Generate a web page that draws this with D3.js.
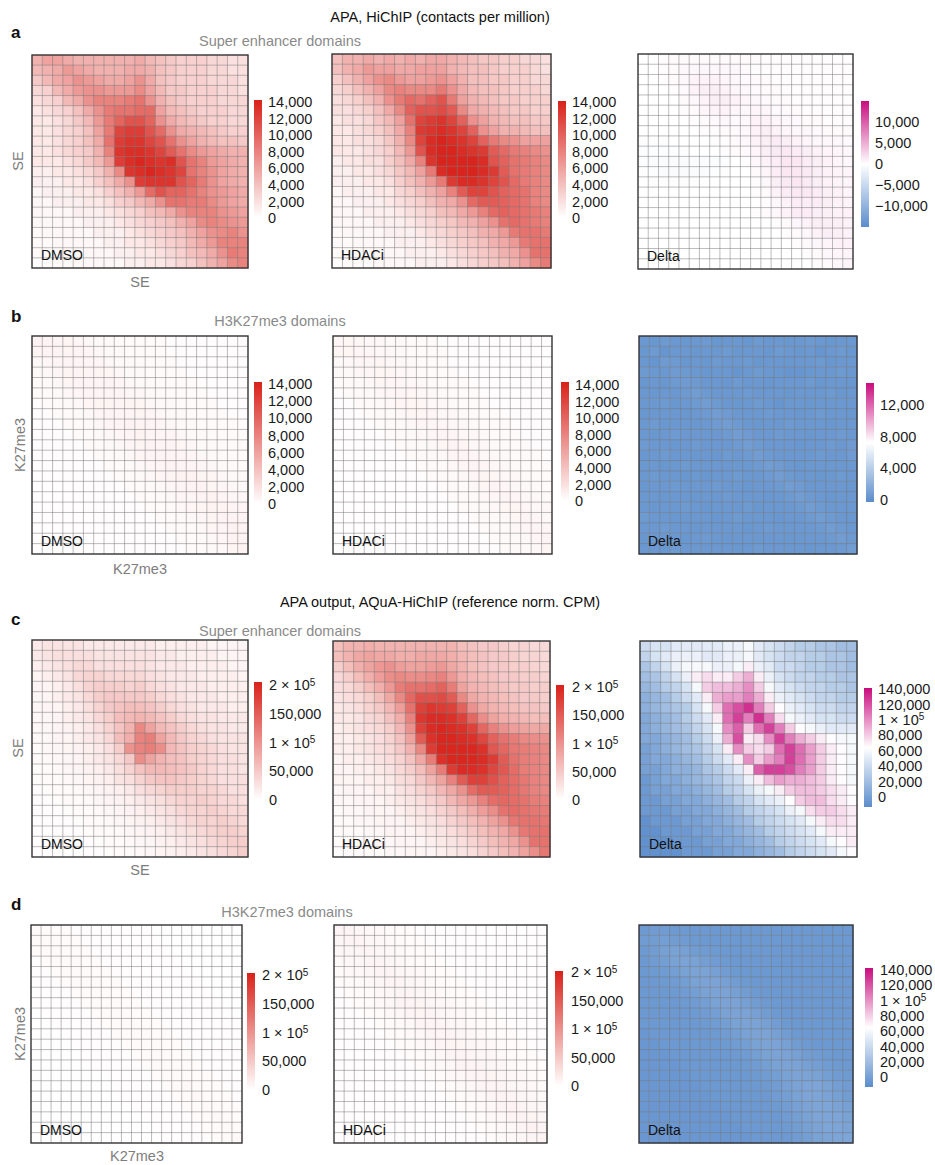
<!DOCTYPE html>
<html>
<head>
<meta charset="utf-8">
<script src="https://cdn.jsdelivr.net/npm/d3@7"></script>
<style>
  body { margin: 0; background: #fff; }
  svg { display: block; }
</style>
</head>
<body>
<div id="chart"></div>
<script>
// ---- data ----
// HiChIP panels in thousands of contacts per million, AQuA panels in units of 10,000 CPM
const conditions = ["DMSO", "HDACi", "Delta"];
const hichipRedTicks = [0, 2000, 4000, 6000, 8000, 10000, 12000, 14000];
const aquaRedTicks = [0, 50000, 100000, 150000, 200000];
const seDeltaHiChIPTicks = [-10000, -5000, 0, 5000, 10000];
const k27DeltaHiChIPTicks = [0, 4000, 8000, 12000];
const aquaDeltaTicks = [0, 20000, 40000, 60000, 80000, 100000, 120000, 140000];
const sciTicks = [100000, 200000];

const seDmsoHiChIP = [
  [5, 6, 6, 5.5, 5, 5, 5, 5, 5, 5, 5.5, 4.5, 4, 3.5, 3, 3, 3, 2.5, 2.5, 2, 2],
  [4.5, 5, 5.5, 6.5, 6, 5.5, 5, 5, 5, 5.5, 5.5, 5, 4, 3.5, 3, 3, 3, 2.5, 2.5, 2, 2],
  [3.5, 4.5, 5.5, 6, 7, 6.5, 6, 5.5, 5.5, 6, 7, 5.5, 4, 3.5, 3, 3, 3, 2.5, 2.5, 2.5, 2],
  [2.5, 3, 4.5, 5.5, 6.5, 7, 7, 6.5, 6.5, 6.5, 7.5, 6, 4.5, 3.5, 3.5, 3, 3, 3, 2.5, 2.5, 2],
  [2, 2.5, 3, 4.5, 5.5, 7, 8, 8, 8, 8.5, 9, 7, 5, 4, 3.5, 3, 3, 3, 2.5, 2.5, 2.5],
  [1.5, 2, 2.5, 3, 4, 5.5, 7, 8.5, 9, 9, 9.5, 9.5, 6, 4.5, 4, 3.5, 3, 3, 3, 2.5, 2.5],
  [1.5, 1.5, 2, 2.5, 3.5, 4.5, 6.5, 8.5, 10, 11, 11, 10, 7, 5.5, 4.5, 4, 3.5, 3, 3, 2.5, 2.5],
  [1.5, 1.5, 2, 2.5, 3, 4, 6, 8.5, 12, 12.5, 12.5, 11, 9.5, 7, 5.5, 5, 4.5, 4, 3.5, 3, 3],
  [1.5, 1.5, 2, 2.5, 3, 4, 5.5, 9, 12.5, 13, 13, 12, 11, 9, 7, 6, 5, 4.5, 4, 4, 3.5],
  [1.5, 1.5, 2, 2.5, 3, 3.5, 5, 8, 13, 13.5, 13.5, 13, 12, 10.5, 9, 7.5, 6.5, 6, 5.5, 5, 5],
  [1.5, 1.5, 1.5, 2, 2.5, 3.5, 4.5, 6.5, 12.5, 13.5, 14, 13.5, 13, 13.5, 11, 9, 8, 6.5, 6, 5.5, 5],
  [1, 1, 1.5, 1.5, 2, 2.5, 3.5, 5, 7.5, 13, 13.5, 14, 13.5, 13, 12, 9, 8, 7, 6, 5.5, 5],
  [1, 1, 1, 1.5, 1.5, 2, 3, 4, 5.5, 7, 12.5, 13, 13, 13, 11, 10, 8.5, 7, 6, 5.5, 5],
  [0.5, 1, 1, 1, 1.5, 1.5, 2, 3, 4, 5, 6.5, 9.5, 11, 10, 10, 9, 8, 7, 6.5, 6, 5.5],
  [0.5, 0.5, 1, 1, 1, 1.5, 1.5, 2, 3, 3.5, 4.5, 5.5, 7, 9, 9, 8.5, 8.5, 7.5, 6.5, 6, 5.5],
  [0.5, 0.5, 0.5, 0.5, 1, 1, 1, 1.5, 2, 2.5, 3, 4, 4.5, 5.5, 7, 8, 8, 8, 7, 6.5, 6],
  [0.5, 0.5, 0.5, 0.5, 0.5, 1, 1, 1, 1.5, 2, 2.5, 3, 3.5, 4, 5, 6, 7.5, 8, 7.5, 7, 6.5],
  [0.3, 0.5, 0.5, 0.5, 0.5, 0.5, 1, 1, 1, 1.5, 2, 2.5, 3, 3.5, 4, 5, 6, 7, 7.5, 8, 7],
  [0.3, 0.3, 0.5, 0.5, 0.5, 0.5, 0.5, 1, 1, 1.5, 1.5, 2, 2.5, 3, 3.5, 4.5, 5.5, 6.5, 8, 8, 8],
  [0.3, 0.3, 0.3, 0.5, 0.5, 0.5, 0.5, 0.5, 1, 1, 1.5, 1.5, 2, 2.5, 3, 4, 4.5, 5.5, 7, 8.5, 8],
  [0.2, 0.3, 0.3, 0.3, 0.5, 0.5, 0.5, 0.5, 0.5, 1, 1, 1.5, 1.5, 2, 2.5, 3, 4, 5, 6, 7.5, 8]
];

const seHdaciHiChIP = [
  [4, 5, 5, 5.5, 5, 5.5, 5, 5.5, 5, 5.5, 5.5, 5, 4.5, 4, 3.5, 3.5, 3, 3, 2.5, 2.5, 2],
  [4, 5, 5.5, 6.5, 6, 6, 5.5, 5.5, 6, 6, 6, 5, 4.5, 4, 4, 3.5, 3, 3, 3, 2.5, 2],
  [3, 4, 5, 6, 7, 7.5, 6.5, 6, 6, 6.5, 7, 6, 5, 4, 4, 3.5, 3.5, 3, 3, 2.5, 2.5],
  [2.5, 3, 4, 5, 6, 7.5, 8, 7.5, 7.5, 7.5, 8.5, 7, 5.5, 4.5, 4, 4, 3.5, 3, 3, 3, 2.5],
  [2, 2.5, 3, 4, 5, 7, 8.5, 9.5, 9, 10, 11, 8.5, 6, 5, 4.5, 4, 3.5, 3.5, 3, 3, 3],
  [2, 2, 2.5, 3, 4, 5.5, 7.5, 10, 11, 11, 11.5, 10.5, 7.5, 5.5, 5, 4.5, 4, 3.5, 3.5, 3, 3],
  [1.5, 2, 2, 2.5, 3.5, 4.5, 6, 9, 12, 12.5, 13, 12, 10, 7, 6, 5, 4.5, 4, 4, 3.5, 3.5],
  [1.5, 1.5, 2, 2.5, 3, 4, 5.5, 8, 12.5, 13, 13.5, 13, 12, 10, 7, 6, 5, 5, 4.5, 4, 4],
  [1.5, 1.5, 2, 2, 2.5, 3.5, 5, 7.5, 12, 13.5, 14, 13.5, 13, 12, 10, 8.5, 7.5, 7, 6, 6, 6],
  [1.5, 1.5, 1.5, 2, 2.5, 3, 4.5, 6.5, 11, 13.5, 14, 14, 13.5, 13, 12.5, 10.5, 9.5, 8.5, 8, 7.5, 7],
  [1, 1.5, 1.5, 2, 2, 3, 4, 5.5, 8, 13, 14, 14, 14, 14, 13.5, 11, 10, 9, 8.5, 8, 7.5],
  [1, 1, 1.5, 1.5, 2, 2.5, 3.5, 4.5, 6, 8.5, 13.5, 14, 14, 14, 13.5, 12.5, 10.5, 9, 8.5, 8, 7.5],
  [1, 1, 1, 1.5, 1.5, 2, 3, 4, 5, 6.5, 8.5, 12.5, 13.5, 13.5, 13, 12, 11, 9.5, 8.5, 8, 7.5],
  [0.5, 1, 1, 1, 1.5, 1.5, 2.5, 3, 4, 5, 6, 8, 10.5, 12, 12, 11, 10, 9.5, 9, 8, 7.5],
  [0.5, 0.5, 1, 1, 1, 1.5, 2, 2.5, 3, 4, 5, 5.5, 7, 9.5, 10.5, 10.5, 10, 9.5, 9, 8, 7.5],
  [0.5, 0.5, 0.5, 1, 1, 1, 1.5, 2, 2.5, 3, 4, 4.5, 5.5, 6.5, 8, 9.5, 10, 9.5, 9, 8.5, 8],
  [0.5, 0.5, 0.5, 0.5, 1, 1, 1, 1.5, 2, 2.5, 3, 3.5, 4.5, 5, 6, 7, 9, 9.5, 9, 8.5, 8],
  [0.3, 0.5, 0.5, 0.5, 0.5, 1, 1, 1, 1.5, 2, 2.5, 3, 3.5, 4, 5, 5.5, 6.5, 8.5, 9, 9, 8.5],
  [0.3, 0.3, 0.5, 0.5, 0.5, 0.5, 1, 1, 1, 1.5, 2, 2.5, 3, 3.5, 4, 5, 5.5, 6.5, 8.5, 9, 9],
  [0.3, 0.3, 0.3, 0.5, 0.5, 0.5, 0.5, 1, 1, 1, 1.5, 2, 2.5, 3, 3.5, 4, 5, 5.5, 7, 9, 9],
  [0.2, 0.3, 0.3, 0.3, 0.5, 0.5, 0.5, 0.5, 1, 1, 1, 1.5, 2, 2.5, 3, 3.5, 4, 5, 6, 7.5, 8.5]
];

const seDeltaHiChIP = [
  [0, 0, 0.2, 0.3, 0.3, 0.3, 0.3, 0.3, 0.3, 0.3, 0.3, 0.3, 0.2, 0.2, 0.2, 0.2, 0.2, 0.2, 0.2, 0.1, 0.1],
  [0, 0, 0.2, 0.3, 0.5, 0.5, 0.5, 0.5, 0.5, 0.5, 0.3, 0.2, 0.2, 0.2, 0.2, 0.2, 0.2, 0.2, 0.2, 0.1, 0.1],
  [0, 0, 0.2, 0.3, 0.5, 0.8, 0.8, 0.8, 0.6, 0.5, 0.4, 0.3, 0.3, 0.2, 0.2, 0.2, 0.2, 0.2, 0.2, 0.2, 0.1],
  [0, 0, 0, 0.2, 0.4, 0.8, 1, 1, 0.8, 0.6, 0.5, 0.4, 0.3, 0.3, 0.2, 0.2, 0.2, 0.2, 0.2, 0.2, 0.1],
  [0, 0, 0, 0, 0.3, 0.5, 0.8, 1, 1, 0.8, 0.6, 0.5, 0.4, 0.3, 0.3, 0.2, 0.2, 0.2, 0.2, 0.2, 0.2],
  [0, 0, 0, 0, 0.2, 0.3, 0.6, 0.8, 0.8, 0.6, 0.5, 0.6, 0.6, 0.4, 0.3, 0.3, 0.2, 0.2, 0.2, 0.2, 0.2],
  [0, 0, 0, 0, 0, 0.2, 0.3, 0.4, 0.5, 0.4, 0.5, 0.8, 0.8, 0.6, 0.5, 0.4, 0.3, 0.3, 0.2, 0.2, 0.2],
  [0, 0, 0, 0, 0, 0, 0.2, 0.2, 0.3, 0.3, 0.5, 0.8, 1, 0.8, 0.6, 0.5, 0.5, 0.4, 0.3, 0.3, 0.3],
  [-0.2, -0.2, -0.2, 0, 0, 0, 0, 0.2, 0.2, 0.3, 0.5, 0.8, 1, 1.2, 1, 0.8, 0.6, 0.5, 0.5, 0.5, 0.4],
  [-0.3, -0.3, -0.3, -0.3, -0.2, 0, 0, 0, 0.2, 0.3, 0.4, 0.6, 1, 1.3, 1.4, 1.2, 1, 0.8, 0.6, 0.6, 0.5],
  [-0.3, -0.5, -0.5, -0.5, -0.5, -0.5, -0.5, -0.4, -0.3, 0, 0.2, 0.5, 0.8, 1.2, 1.5, 1.5, 1.2, 1, 0.8, 0.6, 0.5],
  [-0.2, -0.3, -0.5, -0.5, -0.5, -0.5, -0.5, -0.3, -0.2, 0, 0, 0.3, 0.6, 1.2, 1.5, 1.5, 1.3, 1, 0.8, 0.7, 0.6],
  [0, -0.2, -0.2, -0.2, -0.2, -0.2, 0, 0, 0, 0, 0, 0.2, 0.5, 1, 1.3, 1.5, 1.3, 1, 0.8, 0.7, 0.6],
  [0, 0, 0, 0, 0, 0, 0, 0, 0, 0, 0, 0.2, 0.3, 0.8, 1.2, 1.4, 1.4, 1.2, 0.9, 0.8, 0.6],
  [0, 0, 0, 0, 0, 0, 0, 0, 0, 0, 0, 0, 0.2, 0.5, 0.8, 1.2, 1.2, 1.2, 1, 0.8, 0.7],
  [0, 0, 0, 0, 0, 0, 0, 0, 0, 0, 0, 0.2, 0.3, 0.5, 0.8, 1.2, 1.2, 1, 0.9, 0.8, 0.8],
  [0, 0, 0, 0, 0, 0, 0, 0, 0, 0, 0, 0, 0, 0.2, 0.3, 0.5, 0.8, 1, 1, 0.9, 0.8],
  [0, 0, 0, 0, 0, 0, 0, 0, 0, 0, 0, 0, 0, 0, 0.2, 0.3, 0.5, 0.8, 1, 0.9, 0.8],
  [0, 0, 0, 0, 0, 0, 0, 0, 0, 0, 0, 0, 0, 0, 0, 0.2, 0.3, 0.5, 0.6, 0.8, 0.8],
  [0, 0, 0, 0, 0, 0, 0, 0, 0, 0, 0, 0, 0, 0, 0, 0, 0.2, 0.3, 0.5, 0.6, 0.7],
  [0, 0, 0, 0, 0, 0, 0, 0, 0, 0, 0, 0, 0, 0, 0, 0, 0, 0.2, 0.3, 0.5, 0.6]
];

const k27DmsoHiChIP = [
  [.8, .8, .7, .7, .6, .5, .4, .4, .3, .3, .3, .3, .3, .2, .2, .2, .2, .2, .2, .2, .2],
  [.7, .8, .8, .7, .7, .6, .5, .4, .4, .3, .3, .3, .3, .2, .2, .2, .2, .2, .2, .2, .2],
  [.5, .6, .7, .7, .7, .7, .6, .5, .4, .4, .3, .3, .3, .3, .2, .2, .2, .2, .2, .2, .2],
  [.4, .5, .6, .7, .7, .7, .7, .6, .5, .4, .4, .3, .3, .3, .3, .2, .2, .2, .2, .2, .2],
  [.3, .4, .5, .6, .7, .7, .7, .7, .6, .5, .4, .4, .3, .3, .3, .3, .2, .2, .2, .2, .2],
  [.3, .3, .4, .5, .6, .7, .7, .7, .7, .6, .5, .4, .4, .3, .3, .3, .3, .2, .2, .2, .2],
  [.2, .3, .3, .4, .5, .6, .7, .7, .7, .7, .6, .5, .4, .4, .3, .3, .3, .3, .2, .2, .2],
  [.2, .2, .3, .3, .4, .5, .6, .7, .7, .7, .7, .6, .5, .4, .4, .3, .3, .3, .3, .2, .2],
  [.2, .2, .2, .3, .3, .4, .5, .6, .7, .8, .7, .7, .6, .5, .4, .4, .3, .3, .3, .3, .2],
  [.2, .2, .2, .2, .3, .3, .4, .5, .6, .7, .8, .7, .7, .6, .5, .4, .4, .3, .3, .3, .3],
  [.2, .2, .2, .2, .2, .3, .3, .4, .5, .6, .7, .8, .7, .7, .6, .5, .4, .4, .3, .3, .3],
  [.2, .2, .2, .2, .2, .2, .3, .3, .4, .5, .6, .7, .8, .7, .7, .6, .5, .4, .4, .3, .3],
  [.1, .2, .2, .2, .2, .2, .2, .3, .3, .4, .5, .6, .7, .8, .7, .7, .6, .5, .4, .4, .3],
  [.1, .1, .2, .2, .2, .2, .2, .2, .3, .3, .4, .5, .6, .7, .8, .8, .7, .6, .5, .4, .4],
  [.1, .1, .1, .2, .2, .2, .2, .2, .2, .3, .3, .4, .5, .6, .7, .8, .8, .7, .6, .5, .4],
  [.1, .1, .1, .1, .2, .2, .2, .2, .2, .2, .3, .3, .4, .5, .6, .7, .8, .8, .7, .6, .5],
  [.1, .1, .1, .1, .1, .2, .2, .2, .2, .2, .2, .3, .3, .4, .5, .6, .7, .8, .8, .7, .6],
  [.1, .1, .1, .1, .1, .1, .2, .2, .2, .2, .2, .2, .3, .3, .4, .5, .6, .7, .8, .8, .7],
  [.1, .1, .1, .1, .1, .1, .1, .2, .2, .2, .2, .2, .2, .3, .3, .4, .5, .6, .7, .8, .8],
  [.1, .1, .1, .1, .1, .1, .1, .1, .2, .2, .2, .2, .2, .2, .3, .3, .4, .5, .6, .8, .8],
  [.1, .1, .1, .1, .1, .1, .1, .1, .1, .2, .2, .2, .2, .2, .2, .3, .3, .4, .5, .7, .8]
];

const k27HdaciHiChIP = [
  [.6, .6, .6, .5, .5, .4, .4, .3, .3, .3, .2, .2, .2, .2, .2, .2, .1, .1, .1, .1, .1],
  [.6, .6, .6, .6, .5, .5, .4, .3, .3, .3, .3, .2, .2, .2, .2, .2, .2, .1, .1, .1, .1],
  [.5, .5, .6, .6, .6, .5, .5, .4, .3, .3, .3, .2, .2, .2, .2, .2, .2, .2, .1, .1, .1],
  [.4, .4, .5, .6, .6, .6, .5, .5, .4, .3, .3, .3, .2, .2, .2, .2, .2, .2, .2, .1, .1],
  [.3, .4, .4, .5, .6, .6, .6, .5, .5, .4, .3, .3, .3, .2, .2, .2, .2, .2, .2, .2, .1],
  [.2, .3, .4, .4, .5, .6, .6, .6, .5, .5, .4, .3, .3, .3, .2, .2, .2, .2, .2, .2, .2],
  [.2, .2, .3, .4, .4, .5, .6, .6, .6, .5, .5, .4, .3, .3, .3, .2, .2, .2, .2, .2, .2],
  [.2, .2, .2, .3, .4, .4, .5, .6, .6, .6, .5, .5, .4, .3, .3, .3, .2, .2, .2, .2, .2],
  [.1, .2, .2, .2, .3, .4, .4, .5, .6, .6, .6, .5, .5, .4, .3, .3, .3, .2, .2, .2, .2],
  [.1, .1, .2, .2, .2, .3, .4, .4, .5, .6, .7, .6, .5, .5, .4, .3, .3, .3, .2, .2, .2],
  [.1, .1, .1, .2, .2, .2, .3, .4, .4, .5, .6, .7, .6, .5, .5, .4, .3, .3, .3, .2, .2],
  [.1, .1, .1, .1, .2, .2, .2, .3, .4, .4, .5, .6, .7, .6, .5, .5, .4, .3, .3, .3, .2],
  [.1, .1, .1, .1, .1, .2, .2, .2, .3, .4, .4, .5, .6, .7, .6, .5, .5, .4, .3, .3, .3],
  [.1, .1, .1, .1, .1, .1, .2, .2, .2, .3, .4, .4, .5, .6, .7, .6, .5, .5, .4, .3, .3],
  [.1, .1, .1, .1, .1, .1, .1, .2, .2, .2, .3, .4, .4, .5, .6, .7, .6, .5, .5, .4, .3],
  [.1, .1, .1, .1, .1, .1, .1, .1, .2, .2, .2, .3, .4, .4, .5, .6, .7, .6, .5, .5, .4],
  [.1, .1, .1, .1, .1, .1, .1, .1, .1, .2, .2, .2, .3, .4, .4, .5, .6, .7, .6, .5, .5],
  [.1, .1, .1, .1, .1, .1, .1, .1, .1, .1, .2, .2, .2, .3, .4, .4, .5, .6, .7, .6, .5],
  [.1, .1, .1, .1, .1, .1, .1, .1, .1, .1, .1, .2, .2, .2, .3, .4, .4, .5, .6, .7, .6],
  [.1, .1, .1, .1, .1, .1, .1, .1, .1, .1, .1, .1, .2, .2, .2, .3, .4, .4, .5, .6, .7],
  [.1, .1, .1, .1, .1, .1, .1, .1, .1, .1, .1, .1, .1, .2, .2, .2, .3, .4, .4, .5, .7]
];

const k27DeltaHiChIP = [
  [.5, .4, .6, .5, .4, .5, .6, .4, .5, .5, .4, .6, .5, .5, .4, .5, .6, .5, .4, .5, .5],
  [.4, .6, .3, .5, .5, .4, .5, .5, .6, .4, .5, .5, .4, .6, .5, .4, .5, .3, .5, .6, .4],
  [.5, .3, .7, .6, .4, .5, .4, .6, .5, .5, .6, .4, .5, .5, .4, .5, .5, .6, .4, .5, .5],
  [.6, .5, .5, .7, .6, .5, .4, .5, .5, .3, .5, .6, .5, .4, .3, .3, .4, .5, .5, .6, .5],
  [.4, .5, .4, .6, .7, .6, .5, .5, .4, .6, .5, .5, .4, .5, .5, .5, .6, .4, .5, .5, .4],
  [.5, .4, .5, .5, .6, .8, .6, .5, .5, .5, .6, .5, .5, .5, .4, .5, .5, .5, .6, .4, .5],
  [.5, .5, .6, .4, .5, .6, .8, .6, .5, .4, .5, .6, .5, .3, .5, .5, .4, .5, .5, .5, .5],
  [.4, .5, .5, .5, .4, .5, .6, .8, .7, .5, .5, .5, .6, .5, .5, .4, .5, .6, .5, .5, .4],
  [.5, .6, .4, .5, .5, .4, .5, .7, .8, .6, .5, .4, .5, .5, .6, .5, .5, .5, .4, .5, .5],
  [.5, .4, .5, .6, .5, .5, .5, .5, .6, .8, .7, .5, .5, .6, .5, .5, .4, .5, .5, .6, .5],
  [.6, .5, .5, .4, .5, .6, .5, .5, .5, .6, .8, .6, .5, .5, .5, .4, .5, .5, .6, .5, .7],
  [.4, .5, .6, .5, .5, .4, .5, .4, .6, .5, .6, .8, .6, .5, .5, .5, .5, .6, .5, .5, .7],
  [.5, .5, .4, .5, .6, .5, .5, .5, .5, .5, .5, .6, .8, .7, .5, .4, .5, .5, .5, .5, .5],
  [.5, .6, .5, .5, .4, .5, .4, .5, .5, .6, .5, .5, .6, .8, .6, .5, .5, .4, .5, .6, .5],
  [.4, .5, .5, .6, .5, .5, .5, .6, .5, .5, .4, .5, .5, .6, .8, .7, .5, .5, .5, .5, .4],
  [.5, .5, .4, .5, .5, .4, .5, .5, .6, .5, .5, .5, .4, .5, .6, .8, .6, .5, .4, .5, .5],
  [.5, .4, .5, .5, .6, .5, .4, .5, .5, .5, .6, .4, .5, .5, .5, .6, .8, .6, .5, .5, .5],
  [.6, .5, .5, .4, .5, .5, .5, .4, .5, .6, .5, .5, .5, .4, .5, .5, .6, .8, .6, .5, .4],
  [.5, .5, .6, .5, .5, .4, .5, .5, .5, .5, .4, .5, .6, .5, .5, .5, .5, .6, .8, .6, .5],
  [.4, .5, .5, .5, .4, .5, .6, .5, .4, .5, .5, .5, .5, .5, .4, .5, .5, .5, .6, .8, .6],
  [.5, .5, .4, .6, .5, .5, .5, .5, .5, .4, .5, .6, .5, .5, .5, .5, .4, .5, .5, .6, .8]
];

const seDmsoAQuA = [
  [2, 2.5, 2.5, 2.5, 2.5, 2, 2, 2, 2, 2, 2, 2, 1.5, 1.5, 1.5, 1.5, 1.5, 1, 1, 1, 1],
  [2, 2.5, 3, 3, 3, 3, 2.5, 2.5, 2.5, 2.5, 2.5, 2.5, 2, 2, 1.5, 1.5, 1.5, 1.5, 1, 1, 1],
  [1.5, 2, 2.5, 3, 3.5, 3.5, 3, 3, 3, 3, 3, 2.5, 2, 2, 2, 1.5, 1.5, 1.5, 1.5, 1, 1],
  [1, 1.5, 2, 2.5, 3.5, 4, 4, 3.5, 3.5, 3.5, 3.5, 3, 2.5, 2, 2, 2, 1.5, 1.5, 1.5, 1.5, 1],
  [1, 1, 1.5, 2, 3, 4, 4.5, 4.5, 4.5, 4, 4.5, 3.5, 3, 2.5, 2, 2, 2, 1.5, 1.5, 1.5, 1.5],
  [0.8, 1, 1.5, 2, 2.5, 3.5, 4.5, 5, 5, 5, 5, 4.5, 3.5, 3, 2.5, 2, 2, 2, 1.5, 1.5, 1.5],
  [0.8, 1, 1, 1.5, 2, 3, 4, 5, 5.5, 6, 6, 5.5, 4.5, 3.5, 3, 2.5, 2, 2, 2, 1.5, 1.5],
  [0.7, 0.8, 1, 1.5, 2, 2.5, 3.5, 4.5, 6, 6.5, 7, 6.5, 5.5, 4.5, 3.5, 3, 2.5, 2.5, 2, 2, 2],
  [0.7, 0.8, 1, 1.2, 1.5, 2, 3, 4, 5.5, 7, 11, 8.5, 6.5, 5.5, 4.5, 3.5, 3, 2.5, 2.5, 2, 2],
  [0.6, 0.7, 1, 1, 1.5, 2, 2.5, 3.5, 6, 7.5, 11.5, 12, 8.5, 6.5, 5, 4, 3.5, 3, 2.5, 2.5, 2.5],
  [0.5, 0.7, 0.8, 1, 1.2, 1.5, 2, 3, 4.5, 10, 11.5, 12, 10.5, 6.5, 5.5, 4.5, 4, 3.5, 3, 2.5, 2.5],
  [0.5, 0.6, 0.7, 0.8, 1, 1.5, 2, 2.5, 3.5, 5, 10.5, 8.5, 7, 6, 5.5, 4.5, 4, 3.5, 3, 3, 2.5],
  [0.4, 0.5, 0.6, 0.8, 1, 1.2, 1.5, 2, 3, 4, 5.5, 6.5, 6.5, 6, 5.5, 5, 4, 3.5, 3, 3, 2.5],
  [0.4, 0.5, 0.5, 0.6, 0.8, 1, 1.2, 1.5, 2.5, 3, 4, 5, 5.5, 5.5, 5, 4.5, 4, 3.5, 3, 3, 3],
  [0.3, 0.4, 0.5, 0.5, 0.6, 0.8, 1, 1.2, 1.5, 2, 3, 3.5, 4, 4.5, 4.5, 4.5, 4, 4, 3.5, 3, 3],
  [0.3, 0.3, 0.4, 0.5, 0.5, 0.6, 0.8, 1, 1.2, 1.5, 2, 2.5, 3, 3.5, 4, 4, 4.5, 4, 3.5, 3.5, 3],
  [0.3, 0.3, 0.3, 0.4, 0.5, 0.5, 0.6, 0.8, 1, 1.2, 1.5, 2, 2.5, 3, 3.5, 4, 4, 4.5, 4, 3.5, 3.5],
  [0.2, 0.3, 0.3, 0.3, 0.4, 0.5, 0.5, 0.6, 0.8, 1, 1.2, 1.5, 2, 2.5, 3, 3.5, 4, 4, 4.5, 4, 3.5],
  [0.2, 0.2, 0.3, 0.3, 0.3, 0.4, 0.5, 0.5, 0.6, 0.8, 1, 1.2, 1.5, 2, 2.5, 3, 3.5, 4, 4.5, 4.5, 4],
  [0.2, 0.2, 0.2, 0.3, 0.3, 0.3, 0.4, 0.5, 0.5, 0.6, 0.8, 1, 1.2, 1.5, 2, 2.5, 3, 3.5, 4, 4.5, 4.5],
  [0.2, 0.2, 0.2, 0.2, 0.3, 0.3, 0.3, 0.4, 0.5, 0.5, 0.6, 0.8, 1, 1.2, 1.5, 2, 2.5, 3, 3.5, 4, 4.5]
];

const seHdaciAQuA = [
  [6, 7, 7, 7.5, 7, 7, 7, 7, 7, 7, 7, 7, 6, 5.5, 5, 5, 4.5, 4, 4, 3.5, 3.5],
  [6, 7, 8, 8.5, 8, 8, 7.5, 7.5, 8, 8, 8, 7.5, 6.5, 6, 5.5, 5, 5, 4.5, 4, 4, 3.5],
  [4.5, 6, 7.5, 8.5, 9.5, 10, 9, 8.5, 8.5, 9, 9.5, 8, 7, 6, 5.5, 5, 5, 4.5, 4.5, 4, 3.5],
  [3.5, 4.5, 6, 7.5, 9, 10.5, 11, 10.5, 10.5, 11, 11.5, 9.5, 7.5, 6.5, 6, 5.5, 5, 5, 4.5, 4.5, 4],
  [3, 3.5, 4.5, 6, 7.5, 9.5, 12, 13, 13, 13.5, 14.5, 12, 8.5, 7, 6.5, 6, 5.5, 5, 5, 4.5, 4.5],
  [2.5, 3, 3.5, 4.5, 6, 8, 11, 14, 16, 16, 16.5, 15, 11, 8, 7, 6.5, 6, 5.5, 5, 5, 4.5],
  [2, 2.5, 3, 4, 5, 6.5, 9, 13, 17.5, 18.5, 18, 17.5, 14.5, 10, 8, 7, 6.5, 6, 5.5, 5.5, 5],
  [2, 2, 2.5, 3.5, 4, 5.5, 7.5, 11.5, 18.5, 19.5, 19.5, 19, 17.5, 14, 10.5, 8.5, 7.5, 7, 6.5, 6, 6],
  [1.5, 2, 2.5, 3, 3.5, 4.5, 6.5, 10, 17.5, 19.5, 20, 19.5, 19, 17.5, 14, 11.5, 10, 9, 8.5, 8, 8],
  [1.5, 1.5, 2, 2.5, 3, 4, 5.5, 8.5, 15, 19, 20, 20, 19.5, 19, 17, 14.5, 13, 12, 11, 10.5, 10],
  [1.5, 1.5, 2, 2.5, 3, 3.5, 5, 7, 11, 18, 20, 20, 20, 20, 19, 15.5, 14, 12.5, 12, 11.5, 11],
  [1, 1.5, 1.5, 2, 2.5, 3, 4, 5.5, 8, 12, 19, 20, 20, 20, 19.5, 18, 15, 13, 12, 11.5, 11],
  [1, 1, 1.5, 1.5, 2, 2.5, 3.5, 4.5, 6, 8.5, 12, 18, 19.5, 19.5, 19, 17, 15.5, 13.5, 12, 11.5, 11],
  [1, 1, 1, 1.5, 1.5, 2, 3, 3.5, 5, 6.5, 8.5, 11.5, 15, 17.5, 17.5, 16, 14.5, 13.5, 12.5, 11.5, 11],
  [0.7, 1, 1, 1, 1.5, 1.5, 2.5, 3, 4, 5, 6.5, 8, 10, 13.5, 15, 15, 14.5, 13.5, 12.5, 11.5, 11],
  [0.7, 0.7, 1, 1, 1, 1.5, 2, 2.5, 3, 4, 5, 6.5, 8, 9.5, 11.5, 13.5, 14, 13.5, 13, 12, 11.5],
  [0.5, 0.7, 0.7, 1, 1, 1, 1.5, 2, 2.5, 3, 4, 5, 6, 7.5, 9, 10.5, 13, 13.5, 13, 12.5, 12],
  [0.5, 0.5, 0.7, 0.7, 1, 1, 1, 1.5, 2, 2.5, 3, 4, 5, 6, 7, 8.5, 10, 12.5, 13, 13, 12.5],
  [0.5, 0.5, 0.5, 0.7, 0.7, 1, 1, 1, 1.5, 2, 2.5, 3, 4, 5, 6, 7, 8, 10, 12.5, 13, 13],
  [0.4, 0.5, 0.5, 0.5, 0.7, 0.7, 1, 1, 1, 1.5, 2, 2.5, 3, 4, 5, 6, 7, 8, 10, 13, 13],
  [0.3, 0.4, 0.5, 0.5, 0.5, 0.7, 0.7, 1, 1, 1, 1.5, 2, 2.5, 3, 4, 5, 6, 7, 8.5, 10.5, 12.5]
];

const seDeltaAQuA = [
  [4, 4.5, 4.5, 5, 5, 5, 5, 5, 5.5, 5.5, 6, 5, 4.5, 4, 3.5, 3, 3, 2.5, 2.5, 2, 2],
  [3.5, 4.5, 5, 5.5, 5.5, 5.5, 5, 5, 5.5, 5.5, 6, 5, 4.5, 4, 3.5, 3.5, 3, 3, 2.5, 2.5, 2],
  [2.5, 3.5, 4.5, 5.5, 6, 6, 6, 5.5, 5.5, 6, 7, 5.5, 5, 4, 4, 3.5, 3, 3, 2.5, 2.5, 2],
  [2, 2.5, 3.5, 4.5, 5.5, 7, 7.5, 7, 7, 8, 9, 7, 5.5, 4.5, 4, 3.5, 3.5, 3, 3, 2.5, 2.5],
  [1.5, 2, 3, 3.5, 4.5, 6, 8, 8.5, 8.5, 9, 10, 8, 6, 5, 4.5, 4, 3.5, 3.5, 3, 3, 2.5],
  [1, 1.5, 2, 3, 4, 5, 7, 9, 9.5, 9.5, 10.5, 9, 7, 5.5, 5, 4.5, 4, 3.5, 3.5, 3, 3],
  [1, 1.5, 2, 2.5, 3, 4.5, 6, 8, 11, 12, 13, 10.5, 8, 6.5, 5.5, 5, 4.5, 4, 4, 3.5, 3.5],
  [0.5, 1, 1.5, 2, 3, 4, 5, 7, 11, 12.5, 10.5, 13, 10.5, 7.5, 6, 5.5, 5, 4.5, 4.5, 4, 4],
  [0.5, 1, 1.5, 2, 2.5, 3.5, 4.5, 6, 10, 11.5, 8, 11, 12.5, 10.5, 8, 6.5, 6, 5.5, 5, 5, 5],
  [0.5, 0.5, 1, 1.5, 2, 3, 4, 5.5, 9, 12, 7, 7.5, 10, 12.5, 10.5, 9, 8, 7, 6.5, 6, 6],
  [0, 0.5, 1, 1.5, 2, 2.5, 3.5, 4.5, 7, 10, 8, 7.5, 8, 11, 12.5, 11, 9.5, 8, 7, 6.5, 6],
  [0, 0.5, 0.5, 1, 1.5, 2, 3, 4, 5, 7, 10, 8, 9.5, 10.5, 12.5, 11, 9.5, 8, 7, 6.5, 6],
  [0, 0, 0.5, 1, 1, 1.5, 2.5, 3, 4, 5, 7, 11.5, 12.5, 12.5, 12, 10.5, 9.5, 8, 7, 6.5, 6],
  [-0.5, 0, 0.5, 0.5, 1, 1.5, 2, 2.5, 3.5, 4, 5.5, 7, 8.5, 9.5, 9, 9, 8.5, 8, 7, 6.5, 6],
  [-0.5, 0, 0, 0.5, 0.5, 1, 1.5, 2, 3, 3.5, 4.5, 5.5, 6, 7, 8, 8.5, 8.5, 8, 7.5, 7, 6.5],
  [-0.5, -0.5, 0, 0, 0.5, 0.5, 1, 1.5, 2, 3, 3.5, 4.5, 5, 5.5, 6.5, 8, 8.5, 8.5, 7.5, 7, 6.5],
  [-0.5, -0.5, -0.5, 0, 0, 0.5, 0.5, 1, 1.5, 2, 3, 3.5, 4, 4.5, 5.5, 6, 7.5, 8, 8, 7.5, 7],
  [-1, -0.5, -0.5, -0.5, 0, 0, 0.5, 0.5, 1, 1.5, 2, 3, 3.5, 4, 4.5, 5, 6, 7, 7.5, 7.5, 7],
  [-1, -1, -0.5, -0.5, -0.5, 0, 0, 0.5, 0.5, 1, 1.5, 2, 3, 3.5, 4, 4.5, 5, 6, 7, 7, 7],
  [-1, -1, -1, -0.5, -0.5, -0.5, 0, 0, 0.5, 0.5, 1, 1.5, 2, 3, 3.5, 4, 4.5, 5, 6, 6.5, 7],
  [-1, -1, -1, -1, -0.5, -0.5, -0.5, 0, 0, 0.5, 0.5, 1, 1.5, 2, 3, 3.5, 4, 4.5, 5, 6, 6.5]
];

const k27DmsoAQuA = [
  [.5, .5, .4, .4, .3, .3, .2, .2, .2, .2, .2, .2, .1, .1, .1, .1, .1, .1, .1, .1, .1],
  [.5, .5, .5, .4, .4, .3, .3, .2, .2, .2, .2, .2, .2, .1, .1, .1, .1, .1, .1, .1, .1],
  [.4, .5, .5, .5, .4, .4, .3, .3, .2, .2, .2, .2, .2, .2, .1, .1, .1, .1, .1, .1, .1],
  [.3, .4, .5, .5, .5, .4, .4, .3, .3, .2, .2, .2, .2, .2, .2, .1, .1, .1, .1, .1, .1],
  [.3, .3, .4, .5, .5, .5, .4, .4, .3, .3, .2, .2, .2, .2, .2, .2, .1, .1, .1, .1, .1],
  [.2, .3, .3, .4, .5, .5, .5, .4, .4, .3, .3, .2, .2, .2, .2, .2, .2, .1, .1, .1, .1],
  [.2, .2, .3, .3, .4, .5, .5, .5, .4, .4, .3, .3, .2, .2, .2, .2, .2, .2, .1, .1, .1],
  [.2, .2, .2, .3, .3, .4, .5, .5, .5, .4, .4, .3, .3, .2, .2, .2, .2, .2, .2, .1, .1],
  [.1, .2, .2, .2, .3, .3, .4, .5, .5, .5, .4, .4, .3, .3, .2, .2, .2, .2, .2, .2, .1],
  [.1, .1, .2, .2, .2, .3, .3, .4, .5, .5, .5, .4, .4, .3, .3, .2, .2, .2, .2, .2, .2],
  [.1, .1, .1, .2, .2, .2, .3, .3, .4, .5, .5, .5, .4, .4, .3, .3, .2, .2, .2, .2, .2],
  [.1, .1, .1, .1, .2, .2, .2, .3, .3, .4, .5, .5, .5, .4, .4, .3, .3, .2, .2, .2, .2],
  [.1, .1, .1, .1, .1, .2, .2, .2, .3, .3, .4, .5, .5, .5, .4, .4, .3, .3, .2, .2, .2],
  [.1, .1, .1, .1, .1, .1, .2, .2, .2, .3, .3, .4, .5, .5, .5, .4, .4, .3, .3, .2, .2],
  [.1, .1, .1, .1, .1, .1, .1, .2, .2, .2, .3, .3, .4, .5, .5, .5, .4, .4, .3, .3, .2],
  [.1, .1, .1, .1, .1, .1, .1, .1, .2, .2, .2, .3, .3, .4, .5, .6, .5, .4, .4, .3, .3],
  [.1, .1, .1, .1, .1, .1, .1, .1, .1, .2, .2, .2, .3, .3, .4, .5, .6, .5, .4, .4, .3],
  [.1, .1, .1, .1, .1, .1, .1, .1, .1, .1, .2, .2, .2, .3, .3, .4, .5, .6, .5, .4, .4],
  [.1, .1, .1, .1, .1, .1, .1, .1, .1, .1, .1, .2, .2, .2, .3, .3, .4, .5, .6, .5, .4],
  [.1, .1, .1, .1, .1, .1, .1, .1, .1, .1, .1, .1, .2, .2, .2, .3, .3, .4, .5, .6, .5],
  [.1, .1, .1, .1, .1, .1, .1, .1, .1, .1, .1, .1, .1, .2, .2, .2, .3, .3, .4, .5, .6]
];

const k27HdaciAQuA = [
  [.9, .9, .8, .7, .6, .5, .4, .4, .3, .3, .3, .3, .2, .2, .2, .2, .2, .2, .2, .2, .2],
  [.8, .9, .9, .8, .7, .6, .5, .4, .4, .3, .3, .3, .3, .2, .2, .2, .2, .2, .2, .2, .2],
  [.7, .8, .9, .9, .8, .7, .6, .5, .4, .4, .3, .3, .3, .3, .2, .2, .2, .2, .2, .2, .2],
  [.6, .7, .8, .9, .9, .8, .7, .6, .5, .4, .4, .3, .3, .3, .3, .2, .2, .2, .2, .2, .2],
  [.5, .6, .7, .8, .9, .9, .8, .7, .6, .5, .4, .4, .3, .3, .3, .3, .2, .2, .2, .2, .2],
  [.4, .5, .6, .7, .8, 1, .9, .8, .7, .6, .5, .4, .4, .3, .3, .3, .3, .2, .2, .2, .2],
  [.3, .4, .5, .6, .7, .8, 1, 1, .8, .7, .6, .5, .4, .4, .3, .3, .3, .3, .2, .2, .2],
  [.3, .3, .4, .5, .6, .7, .9, 1, 1, .8, .7, .6, .5, .4, .4, .3, .3, .3, .3, .2, .2],
  [.3, .3, .3, .4, .5, .6, .7, .9, 1, 1, .8, .7, .6, .5, .4, .4, .3, .3, .3, .3, .2],
  [.2, .3, .3, .3, .4, .5, .6, .7, .9, 1, 1, .8, .7, .6, .5, .4, .4, .3, .3, .3, .3],
  [.2, .2, .3, .3, .3, .4, .5, .6, .7, .9, 1, 1, .8, .7, .6, .5, .4, .4, .3, .3, .3],
  [.2, .2, .2, .3, .3, .3, .4, .5, .6, .7, .9, 1, 1, .8, .7, .6, .5, .4, .4, .3, .3],
  [.2, .2, .2, .2, .3, .3, .3, .4, .5, .6, .7, .9, 1, 1, .8, .7, .6, .5, .4, .4, .3],
  [.2, .2, .2, .2, .2, .3, .3, .3, .4, .5, .6, .7, .9, 1, 1, .8, .7, .6, .5, .4, .4],
  [.2, .2, .2, .2, .2, .2, .3, .3, .3, .4, .5, .6, .7, .9, 1, 1, .8, .7, .6, .5, .4],
  [.2, .2, .2, .2, .2, .2, .2, .3, .3, .3, .4, .5, .6, .7, .9, 1, 1, .8, .7, .6, .5],
  [.2, .2, .2, .2, .2, .2, .2, .2, .3, .3, .3, .4, .5, .6, .7, .9, 1.1, 1, .8, .7, .6],
  [.2, .2, .2, .2, .2, .2, .2, .2, .2, .3, .3, .3, .4, .5, .6, .7, .9, 1.1, 1, .8, .7],
  [.2, .2, .2, .2, .2, .2, .2, .2, .2, .2, .3, .3, .3, .4, .5, .6, .7, .9, 1.1, 1, .8],
  [.2, .2, .2, .2, .2, .2, .2, .2, .2, .2, .2, .3, .3, .3, .4, .5, .6, .7, .9, 1.1, 1],
  [.2, .2, .2, .2, .2, .2, .2, .2, .2, .2, .2, .2, .3, .3, .3, .4, .5, .6, .7, .9, 1.1]
];

const k27DeltaAQuA = [
  [-.4, -.3, -.3, -.4, -.4, -.5, -.5, -.5, -.5, -.5, -.5, -.5, -.5, -.5, -.5, -.5, -.5, -.5, -.5, -.5, -.5],
  [-.3, -.2, -.1, -.2, -.3, -.4, -.5, -.5, -.5, -.5, -.5, -.5, -.5, -.5, -.5, -.5, -.5, -.5, -.5, -.5, -.5],
  [-.4, -.2, 0, .1, 0, -.2, -.3, -.4, -.5, -.5, -.5, -.5, -.5, -.5, -.5, -.5, -.5, -.5, -.5, -.5, -.5],
  [-.5, -.3, -.1, .1, .2, .1, -.1, -.3, -.4, -.5, -.5, -.5, -.5, -.5, -.5, -.5, -.5, -.5, -.5, -.5, -.5],
  [-.5, -.4, -.3, -.1, .1, .2, .2, 0, -.2, -.4, -.5, -.5, -.5, -.5, -.5, -.5, -.5, -.5, -.5, -.5, -.5],
  [-.5, -.5, -.4, -.3, -.1, .1, .2, .2, 0, -.2, -.4, -.5, -.5, -.5, -.5, -.5, -.5, -.5, -.5, -.5, -.5],
  [-.5, -.5, -.5, -.4, -.3, -.1, .1, .2, .2, 0, -.2, -.4, -.5, -.5, -.5, -.5, -.5, -.5, -.5, -.5, -.5],
  [-.5, -.5, -.5, -.5, -.4, -.3, -.1, .1, .2, .2, 0, -.2, -.4, -.5, -.5, -.5, -.5, -.5, -.5, -.5, -.5],
  [-.5, -.5, -.5, -.5, -.5, -.4, -.3, -.1, .1, .2, .2, 0, -.2, -.4, -.5, -.5, -.5, -.5, -.5, -.5, -.5],
  [-.5, -.5, -.5, -.5, -.5, -.5, -.4, -.3, -.1, .1, .2, .2, 0, -.2, -.4, -.5, -.5, -.5, -.5, -.5, -.5],
  [-.6, -.5, -.5, -.5, -.5, -.5, -.5, -.4, -.3, -.1, .1, .2, .2, 0, -.2, -.4, -.5, -.5, -.5, -.5, -.5],
  [-.6, -.6, -.5, -.5, -.5, -.5, -.5, -.5, -.4, -.3, -.1, .1, .2, .2, 0, -.2, -.4, -.5, -.5, -.5, -.5],
  [-.6, -.6, -.6, -.5, -.5, -.5, -.5, -.5, -.5, -.4, -.3, -.1, .1, .2, .2, 0, -.2, -.3, -.4, -.5, -.5],
  [-.6, -.6, -.6, -.6, -.5, -.5, -.5, -.5, -.5, -.5, -.4, -.3, -.1, .1, .2, .2, 0, -.1, -.3, -.4, -.5],
  [-.6, -.6, -.6, -.6, -.6, -.5, -.5, -.5, -.5, -.5, -.5, -.4, -.3, -.1, .1, .2, .2, .1, -.1, -.3, -.4],
  [-.6, -.6, -.6, -.6, -.6, -.6, -.5, -.5, -.5, -.5, -.5, -.5, -.4, -.2, 0, .2, .3, .3, .1, -.1, -.3],
  [-.6, -.6, -.6, -.6, -.6, -.6, -.6, -.5, -.5, -.5, -.5, -.5, -.5, -.3, -.1, .1, .3, .3, .2, 0, -.2],
  [-.6, -.6, -.6, -.6, -.6, -.6, -.6, -.6, -.5, -.5, -.5, -.5, -.5, -.4, -.2, 0, .2, .3, .3, .2, 0],
  [-.6, -.6, -.6, -.6, -.6, -.6, -.6, -.6, -.6, -.5, -.5, -.5, -.5, -.5, -.3, -.1, .1, .3, .3, .3, .1],
  [-.6, -.6, -.6, -.6, -.6, -.6, -.6, -.6, -.6, -.6, -.5, -.5, -.5, -.5, -.4, -.2, 0, .2, .3, .3, .2],
  [-.6, -.6, -.6, -.6, -.6, -.6, -.6, -.6, -.6, -.6, -.6, -.5, -.5, -.5, -.5, -.3, -.1, .1, .2, .3, .3]
];

// ---- layout ----
const W = 935, H = 1165, N = 21;
const FONT = '"Liberation Sans", Arial, Helvetica, sans-serif';
const RED = "#d8221a", BLUE = "#5b8dcc", MAGENTA = "#c90c7e";

const panels = [
  {m: seDmsoHiChIP, unit: 1e3, kind: "red", name: 0, box: [32, 55, 216, 213],
   bar: {x: 254, lx: 268, top: 100, bottom: 218, lo: [0, 218], hi: [14000, 102]}, ticks: hichipRedTicks},
  {m: seHdaciHiChIP, unit: 1e3, kind: "red", name: 1, box: [332, 54, 219, 214],
   bar: {x: 558, lx: 572, top: 101, bottom: 218, lo: [0, 218], hi: [14000, 102]}, ticks: hichipRedTicks},
  {m: seDeltaHiChIP, unit: 1e3, kind: "delta", name: 2, box: [638, 54, 215, 215],
   bar: {x: 861, lx: 875, top: 101, bottom: 227, lo: [-10000, 206], hi: [10000, 122]}, ticks: seDeltaHiChIPTicks},

  {m: k27DmsoHiChIP, unit: 1e3, kind: "red", name: 0, box: [32, 336, 216, 218],
   bar: {x: 254, lx: 268, top: 382, bottom: 504, lo: [0, 504], hi: [14000, 384]}, ticks: hichipRedTicks},
  {m: k27HdaciHiChIP, unit: 1e3, kind: "red", name: 1, box: [333, 336, 219, 218],
   bar: {x: 561, lx: 575, top: 382, bottom: 501, lo: [0, 501], hi: [14000, 385]}, ticks: hichipRedTicks},
  {m: k27DeltaHiChIP, unit: 1e3, kind: "delta", name: 2, box: [639, 336, 218, 218],
   bar: {x: 866, lx: 880, top: 383, bottom: 502, lo: [0, 500], hi: [12000, 405]}, ticks: k27DeltaHiChIPTicks},

  {m: seDmsoAQuA, unit: 1e4, kind: "red", name: 0, box: [32, 640, 216, 217],
   bar: {x: 254, lx: 269, top: 682, bottom: 800, lo: [0, 800], hi: [200000, 685]}, ticks: aquaRedTicks},
  {m: seHdaciAQuA, unit: 1e4, kind: "red", name: 1, box: [333, 641, 217, 216],
   bar: {x: 556, lx: 572, top: 685, bottom: 800, lo: [0, 800], hi: [200000, 687]}, ticks: aquaRedTicks},
  {m: seDeltaAQuA, unit: 1e4, kind: "delta", name: 2, box: [640, 641, 217, 216],
   bar: {x: 864, lx: 878, top: 688, bottom: 807, lo: [0, 797], hi: [140000, 689]}, ticks: aquaDeltaTicks},

  {m: k27DmsoAQuA, unit: 1e4, kind: "red", name: 0, box: [31, 925, 211, 218],
   bar: {x: 247, lx: 262, top: 973, bottom: 1090, lo: [0, 1090], hi: [200000, 975]}, ticks: aquaRedTicks},
  {m: k27HdaciAQuA, unit: 1e4, kind: "red", name: 1, box: [334, 925, 213, 218],
   bar: {x: 555, lx: 571, top: 971, bottom: 1086, lo: [0, 1086], hi: [200000, 972]}, ticks: aquaRedTicks},
  {m: k27DeltaAQuA, unit: 1e4, kind: "delta", name: 2, box: [639, 925, 214, 218],
   bar: {x: 865, lx: 880, top: 968, bottom: 1087, lo: [0, 1077], hi: [140000, 970]}, ticks: aquaDeltaTicks}
];

const titles = [
  {t: "APA, HiChIP (contacts per million)", x: 440, y: 22},
  {t: "APA output, AQuA-HiChIP (reference norm. CPM)", x: 440, y: 607}
];
const subtitles = [
  {t: "Super enhancer domains", x: 280, y: 46},
  {t: "H3K27me3 domains", x: 280, y: 326},
  {t: "Super enhancer domains", x: 280, y: 636},
  {t: "H3K27me3 domains", x: 287, y: 917}
];
const letters = [
  {t: "a", y: 38}, {t: "b", y: 322}, {t: "c", y: 625}, {t: "d", y: 910}
];
const axisNames = [
  {t: "SE", bx: 140, by: 287, lx: 23, ly: 161},
  {t: "K27me3", bx: 140, by: 574, lx: 25, ly: 445},
  {t: "SE", bx: 140, by: 875, lx: 23, ly: 748},
  {t: "K27me3", bx: 137, by: 1161, lx: 25, ly: 1034}
];

const svg = d3.select("#chart").append("svg")
  .attr("width", W).attr("height", H)
  .style("font-family", FONT);
const defs = svg.append("defs");

panels.forEach((p, i) => {
  const b = p.bar;
  const cb = d3.scaleLinear().domain([b.lo[0], b.hi[0]]).range([b.lo[1], b.hi[1]]);
  const dMin = cb.invert(b.bottom), dMax = cb.invert(b.top);
  const color = p.kind === "red"
    ? d3.scaleLinear().domain([0, dMax]).range(["#ffffff", RED]).interpolate(d3.interpolateRgb).clamp(true)
    : d3.scaleLinear().domain([dMin, (dMin + dMax) / 2, dMax]).range([BLUE, "#ffffff", MAGENTA])
        .interpolate(d3.interpolateRgb).clamp(true);

  // heatmap
  const [px, py, pw, ph] = p.box;
  const x = d3.scaleBand().domain(d3.range(N)).range([px, px + pw]);
  const y = d3.scaleBand().domain(d3.range(N)).range([py, py + ph]);
  const cells = p.m.flatMap((row, r) => row.map((v, c) => ({r, c, v: v * p.unit})));
  const g = svg.append("g");
  g.selectAll("rect.cell").data(cells).join("rect")
    .attr("class", "cell")
    .attr("x", d => x(d.c)).attr("y", d => y(d.r))
    .attr("width", x.bandwidth() + 0.4).attr("height", y.bandwidth() + 0.4)
    .attr("fill", d => color(d.v));
  g.selectAll("line.v").data(d3.range(1, N)).join("line")
    .attr("class", "v")
    .attr("x1", d => x(d)).attr("x2", d => x(d))
    .attr("y1", py).attr("y2", py + ph)
    .attr("stroke", "#777").attr("stroke-opacity", 0.55).attr("stroke-width", 0.9);
  g.selectAll("line.h").data(d3.range(1, N)).join("line")
    .attr("class", "h")
    .attr("y1", d => y(d)).attr("y2", d => y(d))
    .attr("x1", px).attr("x2", px + pw)
    .attr("stroke", "#777").attr("stroke-opacity", 0.55).attr("stroke-width", 0.9);
  g.append("rect")
    .attr("x", px).attr("y", py).attr("width", pw).attr("height", ph)
    .attr("fill", "none").attr("stroke", "#333").attr("stroke-width", 1.4);
  g.append("text")
    .attr("x", px + 9).attr("y", py + ph - 8)
    .attr("font-size", 14).attr("fill", "#111")
    .text(conditions[p.name]);

  // colour bar
  const gid = "grad" + i;
  const grad = defs.append("linearGradient").attr("id", gid)
    .attr("x1", 0).attr("x2", 0).attr("y1", 1).attr("y2", 0);
  d3.range(0, 1.0001, 0.05).forEach(t => {
    grad.append("stop").attr("offset", t).attr("stop-color", color(dMin + t * (dMax - dMin)));
  });
  svg.append("rect")
    .attr("x", b.x).attr("y", b.top).attr("width", 8).attr("height", b.bottom - b.top)
    .attr("fill", `url(#${gid})`);

  const fmt = d3.format(",");
  const axis = d3.axisRight(cb).tickValues(p.ticks).tickSize(0).tickPadding(b.lx - b.x)
    .tickFormat(d => sciTicks.includes(d) ? `${d / 1e5} × 10` : fmt(d));
  const ag = svg.append("g").attr("transform", `translate(${b.x},0)`).call(axis);
  ag.select(".domain").remove();
  ag.attr("font-family", FONT).attr("font-size", 14.5).attr("color", "#1a1a1a");
  ag.selectAll(".tick text").each(function(d) {
    if (sciTicks.includes(d)) {
      d3.select(this).append("tspan").attr("dy", "-0.45em").attr("font-size", 10).text("5");
    }
  });
});

svg.selectAll("text.title").data(titles).join("text")
  .attr("class", "title").attr("x", d => d.x).attr("y", d => d.y)
  .attr("text-anchor", "middle").attr("font-size", 14.5).attr("fill", "#111")
  .text(d => d.t);
svg.selectAll("text.sub").data(subtitles).join("text")
  .attr("class", "sub").attr("x", d => d.x).attr("y", d => d.y)
  .attr("text-anchor", "middle").attr("font-size", 14.5).attr("fill", "#8a8a8a")
  .text(d => d.t);
svg.selectAll("text.letter").data(letters).join("text")
  .attr("class", "letter").attr("x", 11).attr("y", d => d.y)
  .attr("font-size", 17).attr("font-weight", "bold").attr("fill", "#111")
  .text(d => d.t);
svg.selectAll("text.xname").data(axisNames).join("text")
  .attr("class", "xname").attr("x", d => d.bx).attr("y", d => d.by)
  .attr("text-anchor", "middle").attr("font-size", 14.5).attr("fill", "#7d7d7d")
  .text(d => d.t);
svg.selectAll("text.yname").data(axisNames).join("text")
  .attr("class", "yname")
  .attr("transform", d => `translate(${d.lx},${d.ly}) rotate(-90)`)
  .attr("text-anchor", "middle").attr("font-size", 14.5).attr("fill", "#7d7d7d")
  .text(d => d.t);
</script>
</body>
</html>
